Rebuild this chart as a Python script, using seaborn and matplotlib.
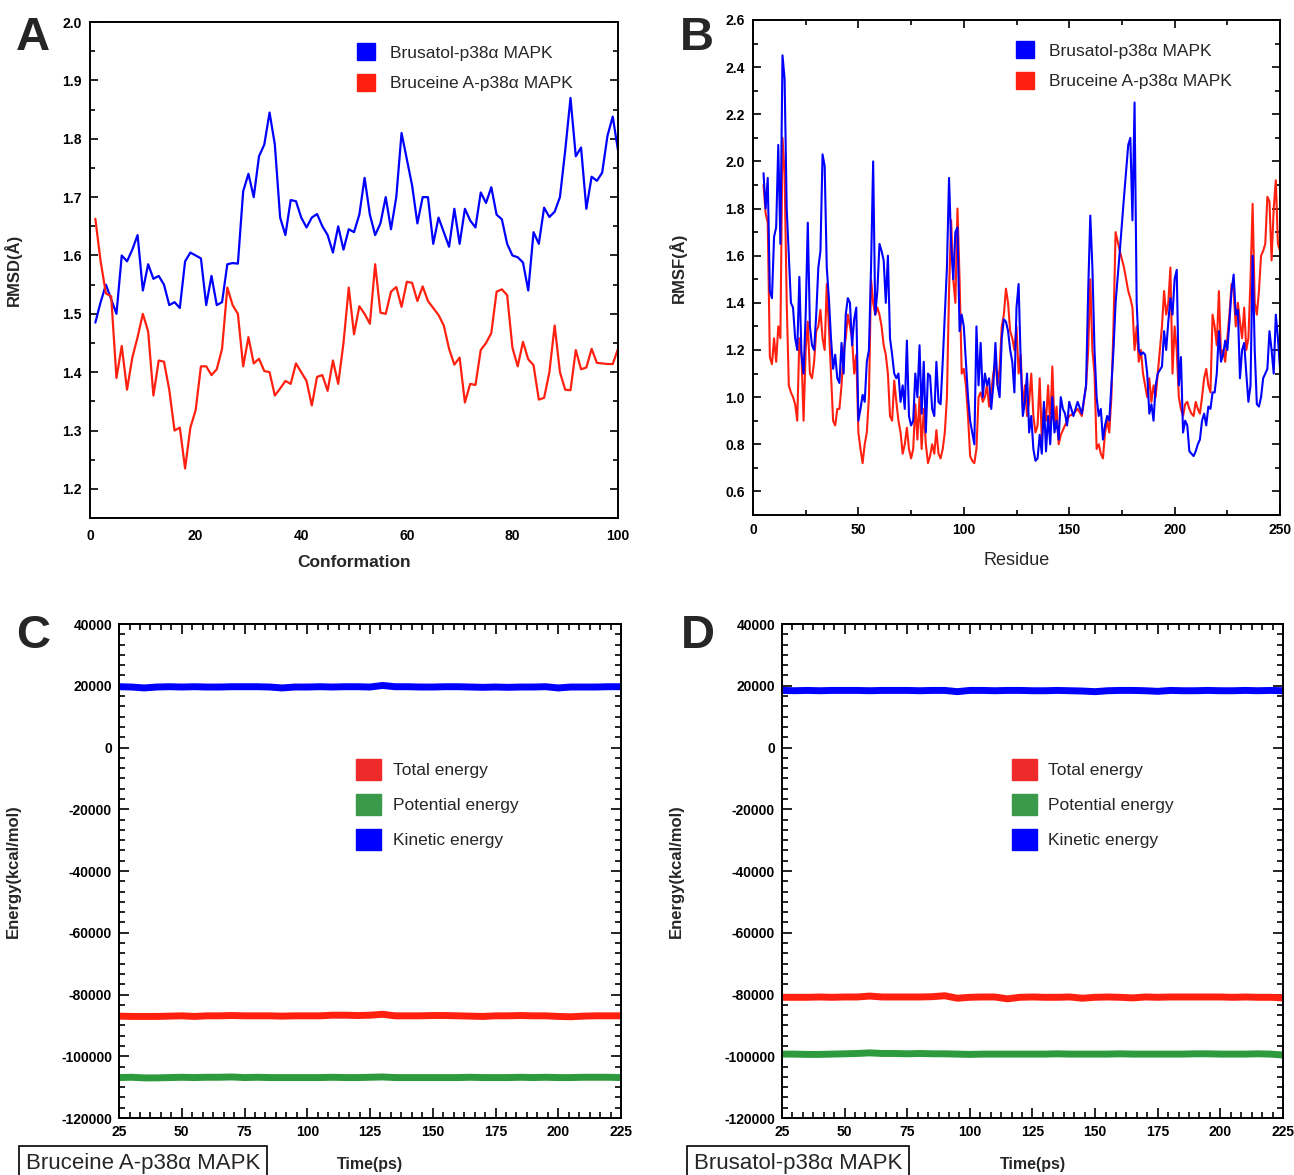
import pandas as pd
import matplotlib
matplotlib.use("Agg")
import matplotlib.pyplot as plt
from matplotlib.patches import Patch
from matplotlib.ticker import MultipleLocator, AutoMinorLocator
import seaborn as sns

# ---- panel A: RMSD per conformation ----
conformation = list(range(1, 101))
rmsd_brusatol = [
    1.485, 1.52, 1.55, 1.525, 1.50, 1.60, 1.59, 1.61, 1.635, 1.54,
    1.585, 1.56, 1.565, 1.55, 1.515, 1.52, 1.51, 1.59, 1.605, 1.60,
    1.595, 1.515, 1.565, 1.515, 1.52, 1.585, 1.587, 1.586, 1.71, 1.74,
    1.70, 1.77, 1.79, 1.845, 1.79, 1.665, 1.635, 1.695, 1.693, 1.665,
    1.648, 1.665, 1.671, 1.65, 1.635, 1.605, 1.65, 1.61, 1.645, 1.64,
    1.67, 1.733, 1.67, 1.635, 1.655, 1.70, 1.645, 1.70, 1.81, 1.765,
    1.72, 1.655, 1.70, 1.70, 1.62, 1.665, 1.64, 1.615, 1.68, 1.62,
    1.68, 1.66, 1.648, 1.708, 1.69, 1.717, 1.67, 1.662, 1.62, 1.60,
    1.597, 1.588, 1.54, 1.64, 1.62, 1.682, 1.666, 1.675, 1.70, 1.78,
    1.87, 1.77, 1.785, 1.68, 1.735, 1.728, 1.742, 1.805, 1.838, 1.78,
]
rmsd_bruceine = [
    1.663, 1.59, 1.535, 1.53, 1.39, 1.445, 1.37, 1.425, 1.46, 1.50,
    1.47, 1.36, 1.42, 1.418, 1.37, 1.30, 1.305, 1.235, 1.305, 1.335,
    1.41, 1.41, 1.395, 1.405, 1.44, 1.545, 1.515, 1.50, 1.41, 1.46,
    1.415, 1.423, 1.402, 1.40, 1.36, 1.372, 1.385, 1.38, 1.415, 1.40,
    1.385, 1.343, 1.392, 1.395, 1.368, 1.42, 1.38, 1.45, 1.545, 1.465,
    1.513, 1.50, 1.483, 1.585, 1.502, 1.50, 1.538, 1.546, 1.512, 1.555,
    1.553, 1.522, 1.547, 1.522, 1.51, 1.498, 1.48, 1.44, 1.413, 1.425,
    1.348, 1.38, 1.378, 1.438, 1.45, 1.467, 1.538, 1.542, 1.532, 1.442,
    1.41, 1.452, 1.422, 1.412, 1.353, 1.356, 1.40, 1.48, 1.40, 1.37,
    1.369, 1.438, 1.405, 1.408, 1.44, 1.416, 1.415, 1.414, 1.414, 1.44,
]

# ---- panel B: RMSF per residue ----
residue = (list(range(5, 151)) + [152, 154, 156, 158] + list(range(159, 173))
           + [174, 176, 178] + list(range(179, 193)) + list(range(194, 251)))
rmsf_brusatol = [
    1.95, 1.80, 1.93, 1.45, 1.42, 1.68, 1.72, 2.07, 1.65, 2.45,
    2.35, 1.80, 1.60, 1.40, 1.38, 1.25, 1.20, 1.51, 1.18, 1.10,
    1.35, 1.74, 1.30, 1.22, 1.20, 1.35, 1.55, 1.62, 2.03, 1.98,
    1.55, 1.42, 1.25, 1.12, 1.18, 1.08, 1.06, 1.23, 1.10, 1.35,
    1.42, 1.40, 1.22, 1.33, 1.38, 0.90, 0.95, 1.01, 0.98, 1.15,
    1.20, 1.55, 2.00, 1.35, 1.45, 1.65, 1.62, 1.58, 1.40, 1.60,
    1.25, 1.18, 1.10, 1.08, 1.10, 0.98, 1.05, 0.95, 1.24, 0.92,
    0.88, 0.90, 1.10, 1.00, 1.22, 0.93, 1.15, 0.85, 1.10, 1.09,
    0.95, 0.92, 1.15, 0.98, 0.97, 1.15, 1.35, 1.55, 1.93, 1.65,
    1.50, 1.70, 1.72, 1.28, 1.35, 1.30, 1.15, 1.00, 0.90, 0.85,
    0.80, 1.30, 1.05, 1.23, 1.00, 1.10, 1.05, 1.08, 0.95, 1.05,
    1.23, 1.05, 1.00, 1.25, 1.33, 1.32, 1.28, 1.20, 1.15, 1.02,
    1.38, 1.48, 1.15, 0.92, 0.98, 1.10, 0.85, 0.92, 0.78, 0.73,
    0.74, 0.84, 0.76, 0.98, 0.77, 0.92, 0.80, 1.00, 0.85, 0.90,
    0.82, 1.00, 0.95, 0.93, 0.88, 0.98,
    0.92, 0.98, 0.93, 1.05,
    1.45, 1.77, 1.55, 1.20, 1.00, 0.92, 0.95, 0.82, 0.88, 0.92, 0.90, 1.05, 1.20, 1.40,
    1.62, 1.85, 2.07,
    2.10, 1.75, 2.25, 1.40, 1.20, 1.18, 1.19, 1.18, 1.10, 0.93, 0.97, 0.90, 1.05, 1.10,
    1.13, 1.28, 1.20, 1.32, 1.42, 1.35, 1.50, 1.54, 1.05, 1.17,
    0.85, 0.90, 0.88, 0.77, 0.76, 0.75, 0.77, 0.80, 0.82, 0.90,
    0.93, 0.88, 0.96, 0.95, 1.02, 1.02, 1.10, 1.28, 1.15, 1.18,
    1.24, 1.20, 1.32, 1.45, 1.52, 1.35, 1.37, 1.08, 1.20, 1.23,
    1.10, 0.98, 1.05, 1.60, 1.20, 0.97, 0.96, 1.00, 1.08, 1.10,
    1.12, 1.28, 1.20, 1.10, 1.35, 1.25, 1.12,
]
rmsf_bruceine = [
    1.90, 1.78, 1.74, 1.17, 1.14, 1.25, 1.15, 1.30, 1.25, 2.10,
    1.95, 1.40, 1.05, 1.02, 1.00, 0.97, 0.90, 1.25, 1.18, 0.90,
    1.20, 1.32, 1.10, 1.08, 1.15, 1.28, 1.30, 1.37, 1.25, 1.20,
    1.48, 1.30, 1.10, 0.90, 0.88, 0.95, 0.95, 1.05, 1.20, 1.25,
    1.35, 1.30, 1.25, 1.10, 1.18, 0.85, 0.78, 0.72, 0.80, 0.85,
    1.00, 1.50, 1.40, 1.35, 1.38, 1.35, 1.30, 1.22, 1.18, 1.10,
    0.92, 0.90, 1.07, 0.98, 0.90, 0.85, 0.76, 0.80, 0.87, 0.78,
    0.74, 0.78, 0.97, 0.82, 1.00, 0.78, 0.95, 0.80, 0.72, 0.75,
    0.80, 0.76, 0.86, 0.76, 0.74, 0.78, 0.85, 1.00, 1.45, 1.75,
    1.50, 1.40, 1.80, 1.50, 1.10, 1.12, 1.05, 0.92, 0.75, 0.73,
    0.72, 0.78, 1.00, 1.02, 0.98, 1.00, 1.05, 0.96, 1.02, 1.10,
    1.15, 1.05, 1.12, 1.30, 1.35, 1.46, 1.40, 1.28, 1.25, 1.20,
    1.30, 1.10, 1.18, 0.95, 1.05, 0.92, 0.98, 1.10, 0.92, 0.85,
    0.88, 1.08, 0.82, 0.96, 0.90, 1.05, 0.88, 1.13, 0.88, 0.96,
    0.80, 0.84, 0.86, 0.88, 0.90, 0.92,
    0.93, 0.95, 0.92, 1.05,
    1.20, 1.50, 1.20, 1.10, 0.78, 0.80, 0.76, 0.74, 0.85, 0.90, 0.85, 1.00, 1.30, 1.70,
    1.62, 1.55, 1.45,
    1.42, 1.38, 1.20, 1.30, 1.15, 1.20, 1.10, 1.05, 1.00, 1.08, 0.98, 1.05, 1.00, 1.10,
    1.30, 1.45, 1.35, 1.40, 1.55, 1.10, 1.30, 1.20, 1.00, 0.95,
    0.92, 0.97, 0.98, 0.95, 0.93, 0.92, 0.98, 0.95, 0.93, 1.00,
    1.08, 1.12, 1.05, 1.02, 1.35, 1.30, 1.22, 1.45, 1.18, 1.20,
    1.15, 1.25, 1.35, 1.48, 1.45, 1.30, 1.40, 1.32, 1.25, 1.38,
    1.20, 1.25, 1.50, 1.82, 1.40, 1.35, 1.45, 1.60, 1.62, 1.65,
    1.85, 1.83, 1.58, 1.80, 1.92, 1.65, 1.62,
]

# ---- panels C and D: energies over time ----
time_ps = list(range(25, 230, 5))
c_kinetic = [
    19700, 19600, 19300, 19600, 19700, 19600, 19700, 19600, 19600, 19700,
    19700, 19700, 19600, 19300, 19600, 19600, 19700, 19600, 19700, 19700,
    19600, 20100, 19700, 19700, 19600, 19600, 19700, 19700, 19600, 19500,
    19600, 19500, 19600, 19600, 19700, 19300, 19600, 19600, 19600, 19700,
    19700,
]
c_total = [
    -87000, -87100, -87100, -87100, -87000, -86900, -87100, -86900, -86900, -86800,
    -86900, -86900, -86900, -87000, -86900, -86900, -86900, -86700, -86700, -86800,
    -86700, -86400, -86900, -86900, -86900, -86800, -86800, -86900, -87000, -87100,
    -86900, -86900, -86800, -86900, -86900, -87100, -87200, -87000, -86900, -86900,
    -86900,
]
c_potential = [
    -106900, -106800, -107000, -107000, -106900, -106800, -106900, -106800, -106800, -106700,
    -106900, -106800, -106900, -106900, -106900, -106900, -106900, -106800, -106900, -106900,
    -106800, -106700, -106900, -106900, -106900, -106900, -106900, -106900, -106800, -106900,
    -106900, -106900, -106800, -106900, -106800, -106900, -106900, -106800, -106800, -106800,
    -106900,
]
d_kinetic = [
    18500, 18400, 18500, 18400, 18500, 18500, 18500, 18400, 18500, 18500,
    18500, 18400, 18500, 18500, 18100, 18500, 18500, 18400, 18500, 18500,
    18400, 18400, 18500, 18400, 18300, 18100, 18400, 18500, 18500, 18400,
    18200, 18500, 18400, 18400, 18500, 18400, 18400, 18500, 18400, 18500,
    18400,
]
d_total = [
    -80900, -80900, -80900, -80800, -80900, -80800, -80800, -80500, -80800, -80800,
    -80800, -80800, -80700, -80400, -81200, -80900, -80800, -80800, -81400, -80900,
    -80800, -80900, -80900, -80800, -81200, -80900, -80800, -80900, -81100, -80800,
    -80900, -80800, -80800, -80800, -80800, -80800, -80900, -80800, -80900, -80900,
    -81100,
]
d_potential = [
    -99300, -99300, -99400, -99400, -99300, -99200, -99100, -98900, -99100, -99100,
    -99200, -99100, -99200, -99200, -99300, -99400, -99300, -99300, -99300, -99300,
    -99300, -99300, -99200, -99300, -99300, -99300, -99300, -99200, -99300, -99300,
    -99300, -99300, -99300, -99200, -99200, -99300, -99300, -99300, -99200, -99300,
    -99600,
]

BLUE = "#0000ff"
RED = "#ff2010"
GREEN = "#2e9a3e"

sns.set_theme(style="ticks")
plt.rcParams["font.family"] = ["Liberation Sans", "DejaVu Sans"]
plt.rcParams["axes.linewidth"] = 1.4
plt.rcParams["axes.unicode_minus"] = False

fig = plt.figure(figsize=(12.94, 11.75), dpi=100)
fig.patch.set_facecolor("white")

ax_a = fig.add_axes([0.0696, 0.5591, 0.408, 0.4221])
ax_b = fig.add_axes([0.5819, 0.5617, 0.4073, 0.4213])
ax_c = fig.add_axes([0.0920, 0.0485, 0.3879, 0.4204])
ax_d = fig.add_axes([0.6043, 0.0485, 0.3872, 0.4204])


def style_ticks(ax, size=10):
    ax.tick_params(which="both", direction="in", top=True, right=True,
                   colors="black", width=1.2)
    ax.tick_params(which="major", length=6, labelsize=size, pad=6)
    ax.tick_params(which="minor", length=3.5)
    for lab in ax.get_xticklabels() + ax.get_yticklabels():
        lab.set_fontweight("bold")
    for sp in ax.spines.values():
        sp.set_visible(True)
        sp.set_color("black")
        sp.set_linewidth(1.4)


# A
df_a = pd.DataFrame({"conf": conformation, "bru": rmsd_brusatol, "brc": rmsd_bruceine})
sns.lineplot(data=df_a, x="conf", y="bru", color=BLUE, linewidth=1.6, ax=ax_a)
sns.lineplot(data=df_a, x="conf", y="brc", color=RED, linewidth=1.6, ax=ax_a)
ax_a.set_xlim(0, 100)
ax_a.set_ylim(1.15, 2.0)
ax_a.xaxis.set_major_locator(MultipleLocator(20))
ax_a.yaxis.set_major_locator(MultipleLocator(0.1))
ax_a.yaxis.set_minor_locator(MultipleLocator(0.05))
style_ticks(ax_a)
ax_a.tick_params(axis="x", which="both", length=0, pad=8)
ax_a.set_xlabel("Conformation", fontsize=12.5, fontweight="bold")
ax_a.set_ylabel("RMSD(Å)", fontsize=12, fontweight="bold")
ax_a.xaxis.set_label_coords(0.5, -0.075)
ax_a.yaxis.set_label_coords(-0.13, 0.5)

# B
df_b = pd.DataFrame({"res": residue, "bru": rmsf_brusatol, "brc": rmsf_bruceine})
sns.lineplot(data=df_b, x="res", y="brc", color=RED, linewidth=1.5, ax=ax_b)
sns.lineplot(data=df_b, x="res", y="bru", color=BLUE, linewidth=1.5, ax=ax_b)
ax_b.set_xlim(0, 250)
ax_b.set_ylim(0.5, 2.6)
ax_b.xaxis.set_major_locator(MultipleLocator(50))
ax_b.xaxis.set_minor_locator(MultipleLocator(25))
ax_b.yaxis.set_major_locator(MultipleLocator(0.2))
ax_b.yaxis.set_minor_locator(MultipleLocator(0.1))
style_ticks(ax_b)
ax_b.set_xlabel("Residue", fontsize=13)
ax_b.set_ylabel("RMSF(Å)", fontsize=12, fontweight="bold")
ax_b.xaxis.set_label_coords(0.5, -0.075)
ax_b.yaxis.set_label_coords(-0.125, 0.5)

for ax, xa in ((ax_a, 0.49), (ax_b, 0.483)):
    handles = [Patch(color=BLUE, label="Brusatol-p38α MAPK"),
               Patch(color=RED, label="Bruceine A-p38α MAPK")]
    ax.legend(handles=handles, loc="upper left", bbox_to_anchor=(xa, 0.975),
              frameon=False, fontsize=12.5, handlelength=1.0, handleheight=1.15,
              handletextpad=0.9, labelspacing=0.75, borderpad=0)

# C and D
energy_sets = [
    (ax_c, c_total, c_potential, c_kinetic, 0.455),
    (ax_d, d_total, d_potential, d_kinetic, 0.441),
]
for ax, tot, pot, kin, xa in energy_sets:
    df_e = pd.DataFrame({"t": time_ps, "total": tot, "potential": pot, "kinetic": kin})
    sns.lineplot(data=df_e, x="t", y="kinetic", color=BLUE, linewidth=5, ax=ax)
    sns.lineplot(data=df_e, x="t", y="total", color=RED, linewidth=5, ax=ax)
    sns.lineplot(data=df_e, x="t", y="potential", color=GREEN, linewidth=5, ax=ax)
    ax.set_xlim(25, 225)
    ax.set_ylim(-120000, 40000)
    ax.xaxis.set_major_locator(MultipleLocator(25))
    ax.xaxis.set_minor_locator(AutoMinorLocator(6))
    ax.yaxis.set_major_locator(MultipleLocator(20000))
    ax.yaxis.set_minor_locator(AutoMinorLocator(6))
    style_ticks(ax)
    ax.tick_params(which="major", length=7, pad=5)
    ax.tick_params(which="minor", length=4)
    ax.set_xlabel("Time(ps)", fontsize=11.5, fontweight="bold")
    ax.set_ylabel("Energy(kcal/mol)", fontsize=12, fontweight="bold")
    ax.xaxis.set_label_coords(0.5, -0.078)
    ax.yaxis.set_label_coords(-0.195, 0.5)
    handles = [Patch(color="#ee2a2a", label="Total energy"),
               Patch(color="#3a9a4a", label="Potential energy"),
               Patch(color=BLUE, label="Kinetic energy")]
    ax.legend(handles=handles, loc="upper left", bbox_to_anchor=(xa, 0.745),
              frameon=False, fontsize=12.5, handlelength=1.45, handleheight=1.5,
              handletextpad=0.65, labelspacing=0.8, borderpad=0)

fig.text(143 / 1294, 1 - 1163 / 1175, "Bruceine A-p38α MAPK", fontsize=16,
         ha="center", va="center",
         bbox=dict(boxstyle="square,pad=0.3", fc="white", ec="black", lw=1.2))
fig.text(798 / 1294, 1 - 1163 / 1175, "Brusatol-p38α MAPK", fontsize=16,
         ha="center", va="center",
         bbox=dict(boxstyle="square,pad=0.3", fc="white", ec="black", lw=1.2))

for letter, x, y in [("A", 33, 38), ("B", 697, 38), ("C", 33, 636), ("D", 698, 636)]:
    fig.text(x / 1294, 1 - y / 1175, letter, fontsize=34, fontweight="bold",
             ha="center", va="center")

fig.savefig("out.png", dpi=100, facecolor="white")
